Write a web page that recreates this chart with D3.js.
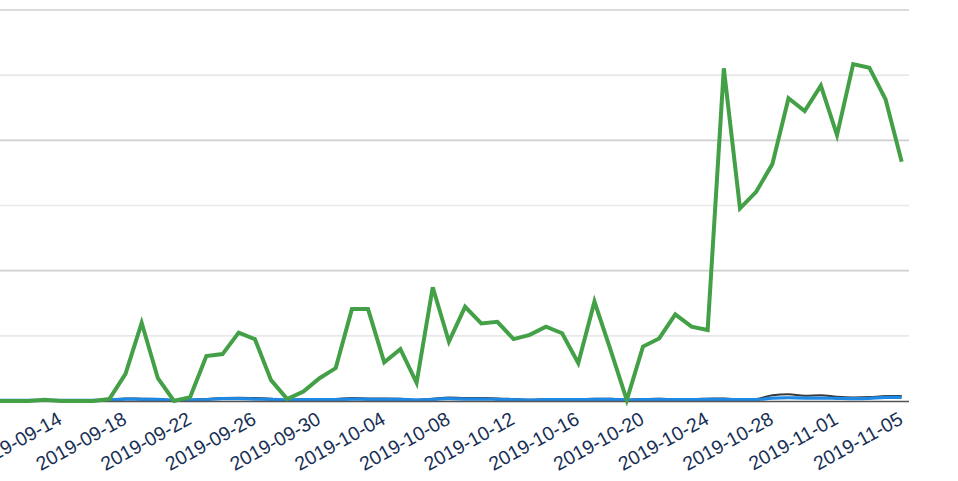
<!DOCTYPE html>
<html>
<head>
<meta charset="utf-8">
<script src="https://cdn.jsdelivr.net/npm/d3@7"></script>
<style>
  html, body { margin: 0; padding: 0; background: #fff; overflow: hidden; }
  svg { display: block; }
</style>
</head>
<body>
<svg id="chart" width="958" height="481"></svg>
<script>
const dates = [
  "2019-09-10","2019-09-11","2019-09-12","2019-09-13","2019-09-14","2019-09-15","2019-09-16",
  "2019-09-17","2019-09-18","2019-09-19","2019-09-20","2019-09-21","2019-09-22","2019-09-23",
  "2019-09-24","2019-09-25","2019-09-26","2019-09-27","2019-09-28","2019-09-29","2019-09-30",
  "2019-10-01","2019-10-02","2019-10-03","2019-10-04","2019-10-05","2019-10-06","2019-10-07",
  "2019-10-08","2019-10-09","2019-10-10","2019-10-11","2019-10-12","2019-10-13","2019-10-14",
  "2019-10-15","2019-10-16","2019-10-17","2019-10-18","2019-10-19","2019-10-20","2019-10-21",
  "2019-10-22","2019-10-23","2019-10-24","2019-10-25","2019-10-26","2019-10-27","2019-10-28",
  "2019-10-29","2019-10-30","2019-10-31","2019-11-01","2019-11-02","2019-11-03","2019-11-04",
  "2019-11-05"
];

const greenSeries = [
  0, 0, 0, 0.4, 0, 0, 0,
  0.6, 8.3, 24, 7, 0, 1.2, 13.8,
  14.4, 21, 19, 6.4, 0.6, 2.9, 7,
  10.1, 28.2, 28.2, 11.9, 15.9, 5.6, 34.9,
  18.2, 28.9, 23.8, 24.3, 19, 20.3, 22.8,
  20.8, 11.6, 30.5, 15.6, 0.3, 16.7, 19.2,
  26.6, 22.8, 21.8, 102.1, 59.1, 64.2, 72.7,
  92.9, 89, 96.8, 81.6, 103.4, 102.3, 92.6,
  73.4
];

const blueSeries = [
  0.2, 0.2, 0.2, 0.2, 0.2, 0.2, 0.2,
  0.3, 0.6, 0.5, 0.5, 0.2, 0.3, 0.4,
  0.7, 0.7, 0.6, 0.5, 0.3, 0.4, 0.4,
  0.4, 0.6, 0.5, 0.5, 0.5, 0.3, 0.5,
  0.7, 0.6, 0.6, 0.5, 0.4, 0.3, 0.4,
  0.4, 0.4, 0.5, 0.5, 0.3, 0.4, 0.5,
  0.4, 0.4, 0.5, 0.5, 0.4, 0.4, 0.9,
  1.0, 0.9, 0.9, 0.8, 0.7, 0.8, 1.1,
  1.1
];

const darkSeries = [
  0.3, 0.3, 0.3, 0.3, 0.3, 0.3, 0.3,
  0.4, 0.8, 0.7, 0.6, 0.3, 0.4, 0.6,
  0.9, 1.0, 0.9, 0.7, 0.4, 0.5, 0.5,
  0.6, 0.9, 0.8, 0.8, 0.7, 0.4, 0.7,
  1.1, 0.9, 0.9, 0.8, 0.6, 0.4, 0.5,
  0.6, 0.6, 0.7, 0.7, 0.4, 0.6, 0.7,
  0.6, 0.6, 0.7, 0.8, 0.5, 0.6, 1.8,
  2.1, 1.6, 1.8, 1.3, 1.1, 1.2, 1.5,
  1.5
];

const yTicks = [0, 20, 40, 60, 80, 100, 120];
const majorTicks = [40, 80, 120];
const tickDates = ["2019-09-14","2019-09-18","2019-09-22","2019-09-26","2019-09-30",
  "2019-10-04","2019-10-08","2019-10-12","2019-10-16","2019-10-20","2019-10-24",
  "2019-10-28","2019-11-01","2019-11-05"];

const parse = d3.utcParse("%Y-%m-%d");
const fmt = d3.utcFormat("%Y-%m-%d");
const svg = d3.select("#chart");

const x = d3.scaleUtc()
  .domain([parse("2019-09-18"), parse("2019-11-05")])
  .range([125.5, 901.7]);
const y = d3.scaleLinear().domain([0, 120]).range([401, 10]);

const gridRight = 909;

svg.append("g").selectAll("line")
  .data(yTicks.filter(v => v > 0))
  .join("line")
  .attr("x1", 0).attr("x2", gridRight)
  .attr("y1", d => y(d)).attr("y2", d => y(d))
  .attr("stroke", d => majorTicks.includes(d) ? "#cfcfcf" : "#e8e8e8")
  .attr("stroke-width", 1.6);

const pts = (arr) => arr.map((v, i) => ({ d: parse(dates[i]), v }));

const lineLin = d3.line().x(p => x(p.d)).y(p => y(p.v));
const lineSmooth = d3.line().x(p => x(p.d)).y(p => y(p.v)).curve(d3.curveMonotoneX);

svg.append("path").datum(pts(darkSeries))
  .attr("d", lineSmooth).attr("fill", "none")
  .attr("stroke", "#3a3a3a").attr("stroke-width", 2);

svg.append("path").datum(pts(blueSeries))
  .attr("d", lineSmooth).attr("fill", "none")
  .attr("stroke", "#1e88e5").attr("stroke-width", 3.2);

svg.append("line")
  .attr("x1", 0).attr("x2", gridRight)
  .attr("y1", y(0) + 0.5).attr("y2", y(0) + 0.5)
  .attr("stroke", "#555").attr("stroke-width", 1.5);

svg.append("path").datum(pts(greenSeries))
  .attr("d", lineLin).attr("fill", "none")
  .attr("stroke", "#43a047").attr("stroke-width", 4)
  .attr("stroke-linejoin", "miter");

const xAxis = d3.axisBottom(x)
  .tickValues(tickDates.map(parse))
  .tickFormat(fmt)
  .tickSize(0)
  .tickPadding(0);

const gx = svg.append("g").attr("transform", `translate(0,${y(0)})`).call(xAxis);
gx.select(".domain").remove();
gx.selectAll("text")
  .attr("fill", "#182f55")
  .attr("font-family", "'Liberation Sans', Arial, sans-serif")
  .attr("font-size", 19.5)
  .attr("text-anchor", "end")
  .attr("dy", null)
  .attr("y", 0)
  .attr("transform", "translate(2,22) rotate(-29)");
</script>
</body>
</html>
